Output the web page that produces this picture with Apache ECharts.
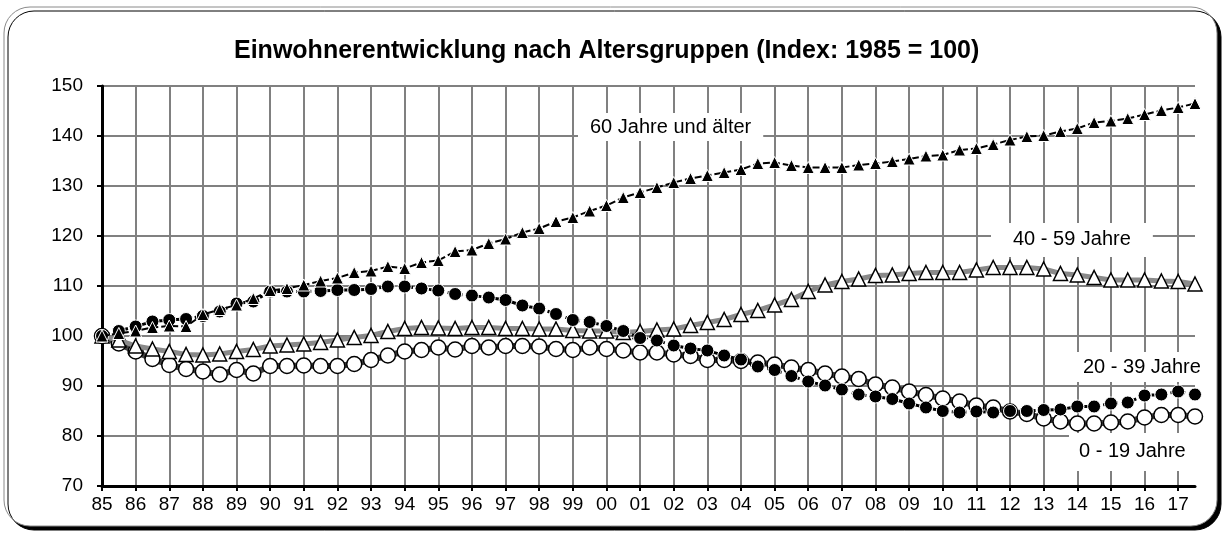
<!DOCTYPE html>
<html>
<head>
<meta charset="utf-8">
<script src="https://cdn.jsdelivr.net/npm/echarts@6/dist/echarts.min.js"></script>
<style>html,body{margin:0;padding:0;background:#fff;}#c{width:1228px;height:540px;}</style>
</head>
<body>
<div id="c"></div>
<script>
const tickLabels = ['85','86','87','88','89','90','91','92','93','94','95','96','97','98','99','00','01','02','03','04','05','06','07','08','09','10','11','12','13','14','15','16','17'];
const yTicks = [70, 80, 90, 100, 110, 120, 130, 140, 150];

const seriesNames = ['60 Jahre und älter', '40 - 59 Jahre', '20 - 39 Jahre', '0 - 19 Jahre'];

const age60plus = [100,100.5,101,101.7,102,101.9,104.3,105.3,106.2,107.5,109.1,109.5,110.2,111,111.6,112.7,113,113.9,113.5,114.7,115.1,116.9,117.2,118.5,119.4,120.7,121.5,122.9,123.7,125,126.1,127.7,128.7,129.7,130.7,131.5,132.1,132.7,133.3,134.5,134.7,134.1,133.7,133.7,133.7,134.2,134.5,134.9,135.4,136,136.2,137.2,137.5,138.3,139.2,139.9,140.1,140.9,141.5,142.7,143,143.5,144.3,145.1,145.7,146.5];
const age40to59 = [100,99.2,98,97.4,96.9,96.3,96.2,96.4,96.9,97.3,98,98.2,98.4,98.7,99.2,99.7,100.1,100.9,101.5,101.7,101.6,101.5,101.7,101.7,101.5,101.5,101.4,101.4,101.1,101,101,100.7,100.9,101.2,101.4,102.1,102.7,103.3,104.3,105.1,106.2,107.3,108.9,110.2,110.9,111.4,112.1,112.2,112.5,112.7,112.7,112.7,113.2,113.7,113.7,113.7,113.4,112.5,112.2,111.7,111.2,111.2,111.2,111,110.9,110.4];
const age20to39 = [100,101,101.9,102.9,103.2,103.4,104,104.9,106.5,106.9,108.9,108.9,108.9,109,109.2,109.2,109.4,109.9,109.9,109.5,109.1,108.4,108.1,107.7,107.2,106.1,105.5,104.4,103.2,102.8,102,101,99.6,99.1,98.1,97.5,97.1,96.1,95.3,93.9,93.2,92,90.9,90.1,89.3,88.3,87.9,87.4,86.5,85.7,85,84.7,84.9,84.7,85,85,85.2,85.3,85.9,85.9,86.5,86.7,88.1,88.3,88.9,88.3];
const age0to19 = [100,98.5,96.9,95.4,94.2,93.4,92.9,92.3,93.2,92.5,94,94,94.1,94,94,94.4,95.2,96.1,96.9,97.2,97.7,97.3,98,97.7,98,98,97.9,97.4,97.2,97.7,97.4,97.1,96.7,96.7,96.3,96,95.2,95.2,95,94.7,94.3,93.7,93.2,92.5,91.9,91.4,90.3,89.7,88.9,88.2,87.5,86.9,86.1,85.7,84.9,84.4,83.5,82.9,82.5,82.5,82.7,82.9,83.7,84.2,84.2,83.9];

// half-year categories (two per year)
const halfYears = [];
tickLabels.forEach(t => { halfYears.push(t + '/1'); halfYears.push(t + '/2'); });

const FONT = '"Liberation Sans", Arial, sans-serif';
const chart = echarts.init(document.getElementById('c'), null, {renderer: 'canvas'});

const option = {
  backgroundColor: '#ffffff',
  animation: false,
  title: {
    text: 'Einwohnerentwicklung nach Altersgruppen (Index: 1985 = 100)',
    left: 229,
    top: 34,
    textStyle: {fontFamily: FONT, fontSize: 25, fontWeight: 'bold', color: '#000'}
  },
  grid: {left: 102, right: 33, top: 86, bottom: 54, containLabel: false},
  xAxis: {
    type: 'category',
    data: halfYears,
    boundaryGap: false,
    axisLine: {show: true, lineStyle: {color: '#000', width: 3}},
    axisTick: {show: true, interval: 1, length: 5, lineStyle: {color: '#000', width: 2}},
    axisLabel: {
      interval: 1, margin: 9, color: '#000', fontFamily: FONT, fontSize: 19,
      formatter: v => v.split('/')[0]
    },
    splitLine: {show: true, interval: 1, lineStyle: {color: '#808080', width: 2}}
  },
  yAxis: {
    type: 'value',
    min: yTicks[0], max: yTicks[yTicks.length - 1], interval: 10,
    axisLine: {show: true, lineStyle: {color: '#000', width: 3}},
    axisTick: {show: true, length: 5, lineStyle: {color: '#000', width: 2}},
    axisLabel: {margin: 19, color: '#000', fontFamily: FONT, fontSize: 19},
    splitLine: {show: true, lineStyle: {color: '#808080', width: 2}}
  },
  graphic: [
    {
      type: 'rect', z: -10, silent: true,
      shape: {x: 4, y: 7, width: 1213, height: 519, r: 26},
      style: {fill: '#fff', stroke: '#8a8a8a', lineWidth: 1,
        shadowColor: '#000', shadowOffsetX: 4, shadowOffsetY: 4, shadowBlur: 0}
    },
    {
      type: 'text', z: 5, left: 578, top: 113,
      style: {text: seriesNames[0], font: '20px ' + FONT, fill: '#000',
        backgroundColor: '#fff', padding: [4, 12, 4, 12]}
    },
    {
      type: 'text', z: 5, left: 991, top: 223,
      style: {text: seriesNames[1], font: '20px ' + FONT, fill: '#000',
        backgroundColor: '#fff', padding: [6, 22, 8, 22]}
    },
    {
      type: 'text', z: 5, left: 1077, top: 352,
      style: {text: seriesNames[2], font: '20px ' + FONT, fill: '#000',
        backgroundColor: '#fff', padding: [5, 6, 5, 6]}
    },
    {
      type: 'text', z: 5, left: 1069, top: 433,
      style: {text: seriesNames[3], font: '20px ' + FONT, fill: '#000',
        backgroundColor: '#fff', padding: [8, 10, 10, 10]}
    }
  ],
  series: [
    {
      name: seriesNames[3], type: 'line', data: age0to19, z: 3, showAllSymbol: true,
      symbol: 'circle', symbolSize: 15,
      itemStyle: {color: '#fff', borderColor: '#000', borderWidth: 1.5},
      lineStyle: {color: '#404040', width: 6}
    },
    {
      name: seriesNames[1], type: 'line', data: age40to59, z: 4, showAllSymbol: true,
      symbol: 'triangle', symbolSize: 14,
      itemStyle: {color: '#fff', borderColor: '#000', borderWidth: 1.5},
      lineStyle: {color: '#8a8a8a', width: 5}
    },
    {
      name: seriesNames[2], type: 'line', data: age20to39, z: 5, showAllSymbol: true,
      symbol: 'circle', symbolSize: 13,
      itemStyle: {color: '#000', borderColor: '#fff', borderWidth: 1},
      lineStyle: {color: '#000', width: 3, type: [8, 4, 3, 4]}
    },
    {
      name: seriesNames[0], type: 'line', data: age60plus, z: 6, showAllSymbol: true,
      symbol: 'triangle', symbolSize: 12,
      itemStyle: {color: '#000', borderColor: '#fff', borderWidth: 1},
      lineStyle: {color: '#000', width: 2, type: [7, 3]}
    }
  ]
};
chart.setOption(option);
</script>
</body>
</html>
